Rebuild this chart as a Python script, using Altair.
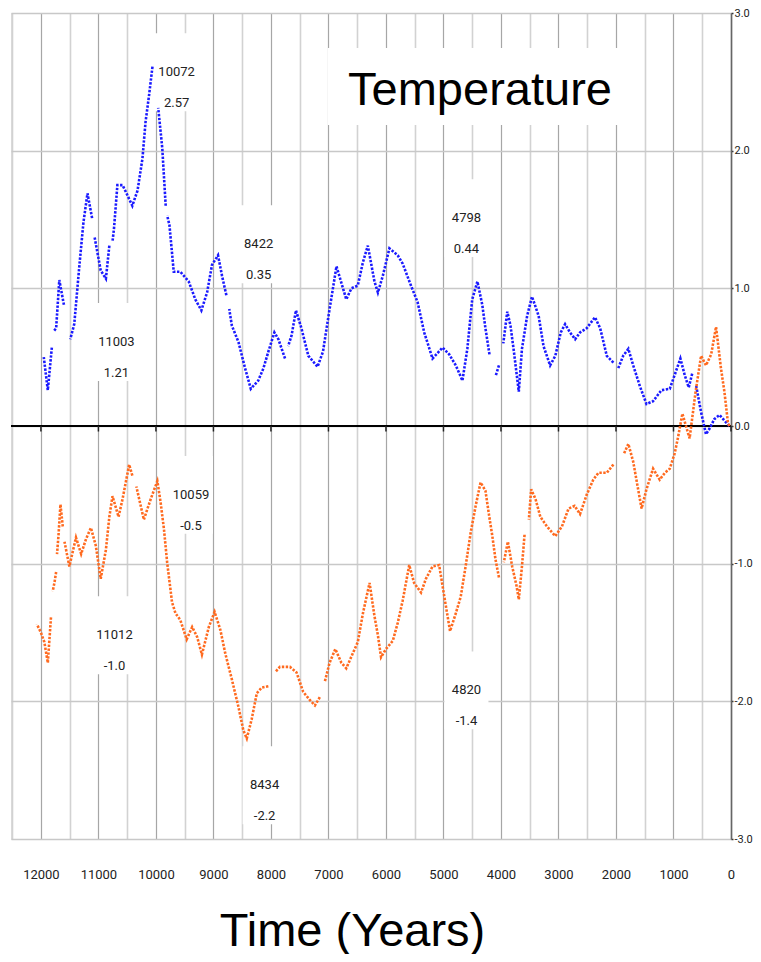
import altair as alt
import pandas as pd

# ---------------- data ----------------
blue_years = [11950, 11880, 11810,
              11775, 11735, 11680, 11600,
              11490, 11420, 11330, 11260, 11190, 11110,
              11070, 10960, 10870, 10810,
              10755, 10730, 10670, 10580, 10500, 10410, 10320, 10235, 10180, 10120, 10060,
              9960, 9890, 9830,
              9805, 9765, 9690, 9575, 9430, 9315, 9210, 9110, 9025, 8920, 8850, 8775,
              8725, 8680, 8565, 8450, 8350, 8220, 8130, 8045, 7940, 7870, 7755,
              7700, 7640, 7565, 7470, 7350, 7190, 7095, 6980, 6860, 6690, 6600, 6490, 6400, 6315,
              6200, 6140, 6055, 5940, 5795, 5710, 5565, 5450, 5335, 5190, 5015, 4900, 4785, 4670,
              4585, 4500, 4410, 4325, 4270, 4200,
              4095, 4035,
              3960, 3890, 3835, 3775, 3690, 3635, 3545, 3460, 3345, 3260, 3145, 3055, 2960, 2885,
              2800, 2710, 2625, 2510, 2365, 2275, 2160, 2045,
              1960, 1875, 1785, 1700, 1585, 1470, 1355, 1210, 1065, 980, 880, 805, 735, 675,
              605, 520, 435, 375, 290, 200, 115, 30]
blue_temps = [0.50, 0.26, 0.57,
              0.69, 0.71, 1.06, 0.88,
              0.63, 0.74, 1.17, 1.48, 1.69, 1.51,
              1.38, 1.13, 1.07, 1.31,
              1.34, 1.43, 1.75, 1.75, 1.68, 1.60, 1.71, 1.94, 2.21, 2.40, 2.61,
              2.31, 2.02, 1.60,
              1.53, 1.46, 1.12, 1.12, 1.05, 0.92, 0.84, 0.97, 1.17, 1.24, 1.09, 0.95,
              0.85, 0.73, 0.61, 0.42, 0.27, 0.33, 0.42, 0.54, 0.68, 0.63, 0.49,
              0.58, 0.66, 0.84, 0.71, 0.51, 0.43, 0.54, 0.85, 1.16, 0.92, 1.00, 1.02, 1.19, 1.31,
              1.05, 0.97, 1.09, 1.29, 1.24, 1.18, 1.02, 0.90, 0.68, 0.49, 0.57, 0.52, 0.44, 0.33,
              0.56, 0.92, 1.05, 0.88, 0.71, 0.52,
              0.36, 0.44,
              0.60, 0.83, 0.73, 0.54, 0.25, 0.56, 0.80, 0.94, 0.80, 0.58, 0.44, 0.51, 0.68, 0.74,
              0.68, 0.63, 0.68, 0.71, 0.79, 0.71, 0.51, 0.46,
              0.42, 0.51, 0.56, 0.44, 0.29, 0.16, 0.18, 0.26, 0.27, 0.37, 0.49, 0.37, 0.28, 0.38,
              0.29, 0.10, -0.06, -0.02, 0.05, 0.08, 0.04, 0.00]
# years where the dotted blue trace restarts after a small gap
blue_breaks = [11775, 11490, 11070, 10755, 9960, 9805, 8725, 7700, 4095, 3960, 1960, 605]

orange_years = [12070, 12000, 11940, 11880, 11825,
                11795, 11765, 11735,
                11720, 11695, 11660, 11620,
                11590, 11505, 11390, 11300, 11215, 11130, 11045, 10960, 10870, 10810, 10755,
                10650, 10580, 10465, 10410,
                10340, 10210, 10090, 9975, 9920, 9860, 9805, 9720, 9660, 9575, 9465, 9370, 9285,
                9200, 9080, 8980, 8880, 8795, 8680, 8565, 8480, 8420, 8335, 8245, 8160, 8045,
                7930, 7845, 7670, 7555, 7440, 7325, 7235, 7150,
                7065, 6980, 6880, 6775, 6690, 6575, 6490, 6400, 6285, 6200, 6140, 6085, 6000,
                5880, 5795, 5710, 5595, 5510, 5390, 5305, 5190, 5075, 4985, 4885, 4785, 4700,
                4615, 4525, 4440, 4355, 4270, 4210, 4150, 4095, 4035,
                3950, 3880, 3805, 3730, 3690, 3635, 3590,
                3515, 3475, 3400, 3315, 3200, 3055, 2940, 2825, 2720, 2625, 2510, 2395, 2305,
                2160, 2045,
                1860, 1785, 1700, 1615, 1555, 1470, 1355, 1240, 1150, 1065, 980, 920, 845, 720,
                615, 520, 435, 345, 260, 175, 115, 55, 30]
orange_temps = [-1.44, -1.50, -1.57, -1.72, -1.39,
                -1.20, -1.14, -1.06,
                -0.93, -0.80, -0.57, -0.73,
                -0.84, -1.02, -0.81, -0.93, -0.82, -0.74, -0.87, -1.11, -0.90, -0.66, -0.51,
                -0.66, -0.53, -0.28, -0.36,
                -0.44, -0.68, -0.53, -0.40, -0.55, -0.75, -0.99, -1.28, -1.36, -1.41, -1.55, -1.46, -1.53,
                -1.66, -1.46, -1.35, -1.48, -1.65, -1.84, -2.04, -2.21, -2.27, -2.13, -1.94, -1.90, -1.89,
                -1.79, -1.75, -1.75, -1.79, -1.93, -1.99, -2.03, -1.97,
                -1.86, -1.72, -1.62, -1.72, -1.76, -1.65, -1.57, -1.36, -1.14, -1.38, -1.52, -1.68, -1.62,
                -1.56, -1.43, -1.27, -1.01, -1.14, -1.21, -1.11, -1.02, -1.01, -1.24, -1.49, -1.36, -1.24,
                -1.02, -0.77, -0.58, -0.41, -0.47, -0.64, -0.80, -0.97, -1.10,
                -0.99, -0.84, -1.02, -1.16, -1.26, -1.02, -0.79,
                -0.68, -0.46, -0.53, -0.66, -0.73, -0.80, -0.73, -0.60, -0.58, -0.64, -0.50, -0.39, -0.34,
                -0.34, -0.28,
                -0.20, -0.13, -0.26, -0.46, -0.60, -0.46, -0.31, -0.39, -0.34, -0.31, -0.20, -0.08, 0.09, -0.09,
                0.25, 0.51, 0.44, 0.52, 0.72, 0.42, 0.25, 0.03, 0.00]
orange_breaks = [11795, 11720, 11590, 10340, 7930, 7065, 3950, 3515, 1860]

# annotation labels (year / value) and where they sit on the chart
note_labels = ["10072\n2.57", "11003\n1.21", "8422\n0.35", "4798\n0.44",
               "10059\n-0.5", "11012\n-1.0", "8434\n-2.2", "4820\n-1.4"]
note_years = [9640, 10687, 8214, 4600, 9390, 10721, 8110, 4600]
note_temps = [2.57, 0.61, 1.32, 1.51, -0.50, -1.52, -2.61, -1.92]

x_ticks = list(range(12500, -1, -500))
y_ticks = [-3, -2, -1, 0, 1, 2, 3]
zero_ticks = list(range(12000, -1, -1000))


def seg_ids(years, breaks):
    out, s = [], 0
    for yv in years:
        if yv in breaks:
            s += 1
        out.append(s)
    return out


blue_df = pd.DataFrame({"year": blue_years, "temp": blue_temps,
                        "seg": seg_ids(blue_years, blue_breaks)})
orange_df = pd.DataFrame({"year": orange_years, "temp": orange_temps,
                          "seg": seg_ids(orange_years, orange_breaks)})
notes_df = pd.DataFrame({"year": note_years, "temp": note_temps, "label": note_labels})
zero_df = pd.DataFrame({"year": zero_ticks, "temp": [0.0] * len(zero_ticks)})

W, H = 720, 826
NARROW = "Roboto, Liberation Sans, sans-serif"
SANS = "Liberation Sans, Arial, Helvetica, sans-serif"

x_axis = alt.Axis(
    values=x_ticks, orient="bottom", format="d",
    labelExpr="datum.value % 1000 === 0 ? datum.label : ''",
    grid=True,
    gridColor={"condition": {"test": "datum.value % 1000 === 0", "value": "#a6a6a6"},
               "value": "#d2d2d2"},
    gridWidth={"condition": {"test": "datum.value % 1000 === 0", "value": 1.2},
               "value": 1.6},
    ticks=False, domain=False,
    labelFont=NARROW, labelFontSize=13, labelColor="#222222",
    labelPadding=29, labelBaseline="top", labelFlush=False, labelOverlap=False,
    title="Time (Years)", titleFont=SANS, titleFontSize=47, titleFontWeight="normal",
    titleColor="#000000", titleX=341, titleY=106, titleBaseline="alphabetic",
    titleAlign="center", titleAnchor=None,
)
y_axis = alt.Axis(
    values=y_ticks, orient="right", format=".1f",
    labelExpr="replace(datum.label, '\u2212', '-')",
    grid=True, gridColor="#c8c8c8", gridWidth=1.6,
    domain=True, domainColor="#666666", domainWidth=1.6,
    ticks=True, tickSize=2, tickColor="#333333", tickWidth=1.5,
    labelFont=NARROW, labelFontSize=11, labelColor="#222222",
    labelPadding=1, labelBaseline="middle", labelFlush=False,
    title=None,
)
x_scale = alt.Scale(domain=[12520, 0], nice=False, zero=False)
y_scale = alt.Scale(domain=[-3, 3], nice=False, zero=False)

X = alt.X("year:Q", scale=x_scale, axis=x_axis)
Y = alt.Y("temp:Q", scale=y_scale, axis=y_axis)

# white label boxes (rectangle drawn as a custom point shape)
note_boxes = alt.Chart(notes_df).mark_point(
    shape="M-1,-1.77L1,-1.77L1,1.77L-1,1.77Z", size=1936,
    filled=True, fill="white", opacity=1, strokeWidth=0,
).encode(x=X, y=Y)

zero_line = alt.Chart(zero_df).mark_rule(color="black", strokeWidth=2).encode(
    x=alt.value(0), x2=alt.value(W), y=Y)

zero_tick_marks = alt.Chart(zero_df).mark_rule(color="#222222", strokeWidth=1.5).encode(
    x=X, y=Y, y2=alt.datum(-0.04))

blue_line = alt.Chart(blue_df).mark_line(
    color="#1a1aff", strokeWidth=2.6, strokeDash=[2.4, 1.5], strokeCap="butt",
).encode(x=X, y=Y, detail="seg:N", order="year:Q")

orange_line = alt.Chart(orange_df).mark_line(
    color="#ff6a1f", strokeWidth=2.6, strokeDash=[2.4, 1.5], strokeCap="butt",
).encode(x=X, y=Y, detail="seg:N", order="year:Q")

note_text = alt.Chart(notes_df).mark_text(
    font=NARROW, fontSize=13, lineBreak="\n", lineHeight=31,
    baseline="middle", align="center", color="#222222",
).encode(x=X, y=Y, text="label:N")

title_df = pd.DataFrame({"label": ["Temperature"]})
title_box = alt.Chart(title_df).mark_point(
    shape="M-1,-0.264L1,-0.264L1,0.264L-1,0.264Z", size=85264,
    filled=True, fill="white", opacity=1, strokeWidth=0,
).encode(x=alt.value(463), y=alt.value(73.5))
title_text = alt.Chart(title_df).mark_text(
    font=SANS, fontSize=47, baseline="alphabetic", align="center", color="#000000",
).encode(x=alt.value(469), y=alt.value(92), text="label:N")

chart = alt.layer(
    note_boxes, title_box, zero_line, zero_tick_marks,
    blue_line, orange_line, note_text, title_text,
).properties(
    width=W, height=H,
    autosize=alt.AutoSizeParams(type="none"),
    padding={"left": 3, "top": 5, "right": 745 - 3 - W, "bottom": 115},
).configure_view(
    stroke="#bdbdbd", strokeWidth=1.5,
).configure(background="white")

chart.save("out.html", embed_options={"renderer": "svg", "actions": False})
